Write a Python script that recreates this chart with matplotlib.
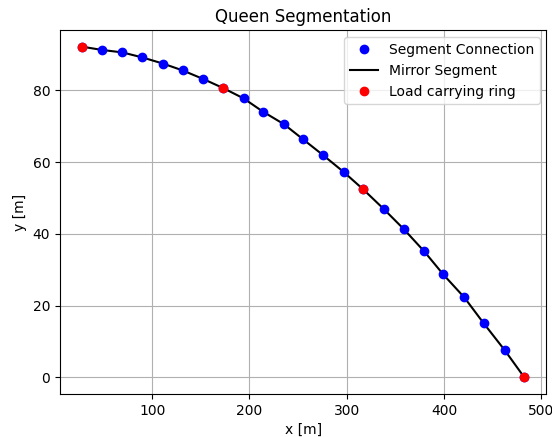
import matplotlib
matplotlib.use("Agg")
import matplotlib.pyplot as plt

# Segment joint coordinates along the mirror profile [m]
x_joints = [28.0, 48.3, 69.5, 90.0, 111.0, 131.2, 152.4, 172.7, 193.9, 213.8, 235.4,
            255.0, 275.5, 296.7, 317.0, 338.2, 358.4, 379.4, 399.2, 420.8, 440.7,
            462.3, 482.5]
y_joints = [92.2, 91.3, 90.6, 89.2, 87.5, 85.6, 83.2, 80.7, 77.8, 74.1, 70.6,
            66.4, 62.0, 57.3, 52.4, 46.9, 41.4, 35.2, 28.7, 22.3, 15.1,
            7.6, 0.0]

# Joints where a load carrying ring sits
ring_index = [0, 7, 14, 22]
x_rings = [x_joints[i] for i in ring_index]
y_rings = [y_joints[i] for i in ring_index]

fig = plt.figure(figsize=(5.52, 4.37), dpi=100)
ax = fig.add_subplot(111)
fig.subplots_adjust(left=0.1087, right=0.990, bottom=0.0984, top=0.931)

ax.plot(x_joints, y_joints, "o", color="blue", label="Segment Connection", zorder=3)
ax.plot(x_joints, y_joints, "-", color="black", label="Mirror Segment", zorder=2)
ax.plot(x_rings, y_rings, "o", color="red", label="Load carrying ring", zorder=4)

ax.set_title("Queen Segmentation")
ax.set_xlabel("x [m]")
ax.set_ylabel("y [m]")
ax.grid(True)
ax.legend(loc="upper right")

fig.savefig("out.png", dpi=100)
